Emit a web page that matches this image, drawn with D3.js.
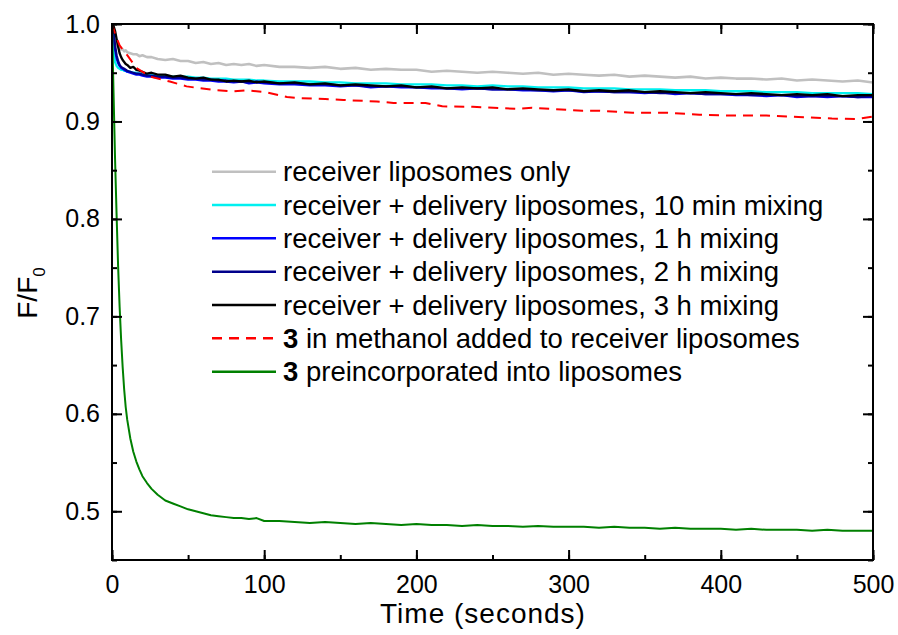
<!DOCTYPE html>
<html><head><meta charset="utf-8">
<script src="https://cdn.jsdelivr.net/npm/d3@7"></script>
<style>body{margin:0;background:#fff}svg text{font-family:"Liberation Sans",Arial,sans-serif;fill:#000}</style>
</head><body><svg id="c" width="898" height="635"></svg>
<script>
const times = [0,1,2,3,4,5,6,7,8,9,
 10,12,14,16,18,20,23,26,30,35,
 40,45,50,55,60,65,70,75,80,85,
 90,95,100,110,120,130,140,150,160,170,
 180,190,200,210,220,230,240,250,260,270,
 280,290,300,310,320,330,340,350,360,370,
 380,390,400,410,420,430,440,450,460,470,
 480,490,500];
const receiverOnly = [1.000,0.990,0.983,0.979,0.977,0.975,0.974,0.974,0.972,0.973,
 0.971,0.970,0.969,0.969,0.967,0.968,0.966,0.966,0.964,0.963,
 0.964,0.962,0.962,0.960,0.961,0.959,0.960,0.958,0.959,0.958,
 0.959,0.957,0.958,0.956,0.956,0.955,0.956,0.954,0.955,0.953,
 0.954,0.953,0.953,0.951,0.952,0.951,0.950,0.951,0.950,0.949,
 0.950,0.948,0.949,0.948,0.947,0.948,0.946,0.947,0.946,0.945,
 0.946,0.944,0.945,0.944,0.944,0.943,0.944,0.942,0.943,0.942,
 0.941,0.942,0.940];
const mix10min = [1.000,0.972,0.961,0.957,0.955,0.954,0.953,0.953,0.952,0.952,
 0.951,0.951,0.950,0.950,0.949,0.949,0.948,0.948,0.947,0.947,
 0.946,0.946,0.946,0.945,0.945,0.944,0.944,0.944,0.943,0.943,
 0.943,0.942,0.942,0.941,0.941,0.941,0.940,0.940,0.939,0.939,
 0.939,0.938,0.938,0.938,0.937,0.937,0.936,0.937,0.936,0.936,
 0.935,0.935,0.935,0.934,0.934,0.934,0.933,0.933,0.933,0.932,
 0.932,0.932,0.931,0.931,0.931,0.930,0.930,0.930,0.929,0.929,
 0.929,0.929,0.928];
const mix1h = [1.000,0.988,0.974,0.965,0.960,0.957,0.955,0.954,0.953,0.952,
 0.951,0.950,0.949,0.948,0.948,0.947,0.946,0.946,0.945,0.945,
 0.944,0.944,0.943,0.943,0.942,0.942,0.941,0.941,0.940,0.941,
 0.939,0.940,0.939,0.938,0.938,0.937,0.937,0.936,0.937,0.935,
 0.936,0.935,0.935,0.934,0.934,0.933,0.934,0.933,0.933,0.932,
 0.932,0.931,0.932,0.930,0.931,0.930,0.930,0.929,0.930,0.928,
 0.929,0.928,0.928,0.927,0.927,0.926,0.927,0.925,0.926,0.925,
 0.926,0.925,0.925];
const mix2h = [1.000,0.992,0.978,0.968,0.962,0.958,0.956,0.955,0.954,0.953,
 0.952,0.951,0.950,0.949,0.949,0.948,0.947,0.947,0.946,0.946,
 0.945,0.945,0.944,0.944,0.943,0.943,0.942,0.942,0.941,0.941,
 0.940,0.941,0.940,0.939,0.939,0.938,0.938,0.937,0.937,0.936,
 0.936,0.936,0.935,0.935,0.934,0.934,0.934,0.933,0.933,0.933,
 0.932,0.932,0.932,0.931,0.931,0.930,0.930,0.930,0.929,0.929,
 0.929,0.928,0.928,0.928,0.927,0.927,0.927,0.926,0.926,0.926,
 0.926,0.925,0.926];
const mix3h = [1.000,0.998,0.993,0.985,0.977,0.970,0.966,0.963,0.961,0.959,
 0.958,0.955,0.956,0.953,0.952,0.951,0.949,0.950,0.948,0.948,
 0.946,0.947,0.945,0.944,0.945,0.943,0.943,0.941,0.942,0.941,
 0.942,0.940,0.941,0.939,0.940,0.938,0.939,0.937,0.938,0.937,
 0.936,0.937,0.935,0.936,0.934,0.935,0.934,0.935,0.933,0.934,
 0.933,0.932,0.933,0.931,0.932,0.931,0.932,0.930,0.931,0.930,
 0.929,0.930,0.929,0.928,0.929,0.928,0.927,0.928,0.927,0.928,
 0.926,0.927,0.927];
const preincorporated = [1.000,0.930,0.862,0.805,0.752,0.710,0.676,0.648,0.625,0.607,
 0.594,0.575,0.561,0.551,0.543,0.536,0.529,0.523,0.517,0.511,
 0.508,0.505,0.502,0.500,0.498,0.496,0.495,0.494,0.493,0.493,
 0.492,0.493,0.490,0.490,0.489,0.488,0.489,0.488,0.487,0.488,
 0.487,0.486,0.487,0.486,0.486,0.485,0.486,0.485,0.485,0.484,
 0.485,0.484,0.484,0.484,0.483,0.484,0.483,0.483,0.482,0.483,
 0.482,0.482,0.482,0.481,0.482,0.481,0.481,0.481,0.480,0.481,
 0.480,0.480,0.480];
const methanolTimes = [0,2,5,10,16,25,38,49,58,69,80,88,101,115,123,140,152,174,185,206,217,237,265,276,309,320,342,364,386,407,430,451,473,489,500];
const methanol = [1.000,0.990,0.978,0.968,0.955,0.946,0.941,0.936,0.934,0.932,0.931,0.932,0.930,0.925,0.924,0.923,0.922,0.9205,0.919,0.919,0.9155,0.915,0.913,0.914,0.911,0.911,0.909,0.909,0.907,0.906,0.906,0.9045,0.903,0.9025,0.905];

const xTicks = [0,100,200,300,400,500];
const yTicks = [0.5,0.6,0.7,0.8,0.9,1.0];
const legendLabels = [
 {pre:"", txt:"receiver liposomes only"},
 {pre:"", txt:"receiver + delivery liposomes, 10 min mixing"},
 {pre:"", txt:"receiver + delivery liposomes, 1 h mixing"},
 {pre:"", txt:"receiver + delivery liposomes, 2 h mixing"},
 {pre:"", txt:"receiver + delivery liposomes, 3 h mixing"},
 {pre:"3", txt:" in methanol added to receiver liposomes"},
 {pre:"3", txt:" preincorporated into liposomes"}
];

const series = [
 {t:times, v:receiverOnly, color:"#c0c0c0", w:2.6, dash:null},
 {t:times, v:mix10min, color:"#00f0f0", w:2.3, dash:null},
 {t:times, v:mix1h, color:"#0000ff", w:2.3, dash:null},
 {t:times, v:mix2h, color:"#00008b", w:2.3, dash:null},
 {t:times, v:mix3h, color:"#000000", w:2.3, dash:null},
 {t:methanolTimes, v:methanol, color:"#ff0000", w:2, dash:"10,7"},
 {t:times, v:preincorporated, color:"#008000", w:2, dash:null}
];

const svg = d3.select("#c");
const PL=112, PR=873, PT=24, PB=560;
const x = d3.scaleLinear().domain([0,500]).range([PL,PR]);
const y = d3.scaleLinear().domain([0.45,1.0]).range([PB,PT]);

svg.append("clipPath").attr("id","clip").append("rect").attr("x",PL).attr("y",PT).attr("width",PR-PL).attr("height",PB-PT);

const line = d3.line().x(d=>x(d[0])).y(d=>y(d[1]));
const g = svg.append("g").attr("clip-path","url(#clip)");
series.forEach(s=>{
  const pts = s.t.map((t,i)=>[t,s.v[i]]);
  g.append("path").datum(pts).attr("d",line).attr("fill","none")
   .attr("stroke",s.color).attr("stroke-width",s.w).attr("stroke-linejoin","round")
   .attr("stroke-dasharray",s.dash);
});

// axes
const minorX = d3.range(0,501,50);
const minorY = d3.range(0.45,1.001,0.05).map(v=>+v.toFixed(2));
function axisG(axis, tr){ return svg.append("g").attr("transform",tr).call(axis); }
const axB = axisG(d3.axisBottom(x).tickValues(xTicks).tickSize(-10).tickFormat(d3.format("d")), `translate(0,${PB})`);
axisG(d3.axisBottom(x).tickValues(minorX).tickSize(-5).tickFormat(""), `translate(0,${PB})`);
axisG(d3.axisTop(x).tickValues(xTicks).tickSize(-10).tickFormat(""), `translate(0,${PT})`);
axisG(d3.axisTop(x).tickValues(minorX).tickSize(-5).tickFormat(""), `translate(0,${PT})`);
const axL = axisG(d3.axisLeft(y).tickValues(yTicks).tickSize(-10).tickPadding(12).tickFormat(d3.format(".1f")), `translate(${PL},0)`);
axisG(d3.axisLeft(y).tickValues(minorY).tickSize(-5).tickFormat(""), `translate(${PL},0)`);
axisG(d3.axisRight(y).tickValues(yTicks).tickSize(-10).tickFormat(""), `translate(${PR},0)`);
axisG(d3.axisRight(y).tickValues(minorY).tickSize(-5).tickFormat(""), `translate(${PR},0)`);
svg.selectAll(".domain").remove();
svg.selectAll(".tick line").attr("stroke","#000").attr("stroke-width",2);
svg.selectAll(".tick text").attr("font-size",25).attr("fill","#000").attr("font-family","Liberation Sans, Arial, sans-serif");
axB.selectAll(".tick text").attr("y",33).attr("dy",0);
svg.append("rect").attr("x",PL).attr("y",PT).attr("width",PR-PL).attr("height",PB-PT)
  .attr("fill","none").attr("stroke","#000").attr("stroke-width",2);

// axis titles
svg.append("text").attr("x",483).attr("y",623).attr("text-anchor","middle").attr("font-size",28).attr("letter-spacing",1).text("Time (seconds)");
const yt = svg.append("text").attr("transform","translate(37,293) rotate(-90)").attr("text-anchor","middle").attr("font-size",28);
yt.append("tspan").text("F/F");
yt.append("tspan").attr("font-size",17).attr("dy",8).text("0");

// legend
const lg = svg.append("g");
legendLabels.forEach((d,i)=>{
  const yy = 171.7 + i*33.33;
  const s = series[i];
  lg.append("line").attr("x1",212).attr("x2",276).attr("y1",yy).attr("y2",yy)
    .attr("stroke",s.color).attr("stroke-width",2.5).attr("stroke-dasharray",s.dash);
  const t = lg.append("text").attr("x",283).attr("y",yy).attr("dy","0.35em").attr("font-size",27.5);
  if(d.pre) t.append("tspan").attr("font-weight","bold").text(d.pre);
  t.append("tspan").text(d.txt);
});
</script></body></html>
